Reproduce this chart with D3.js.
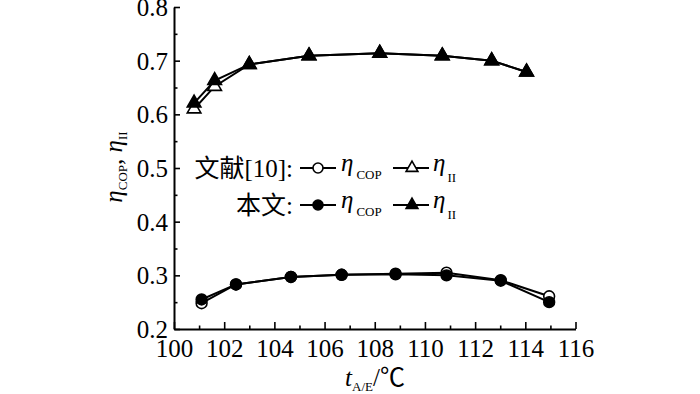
<!DOCTYPE html>
<html>
<head>
<meta charset="utf-8">
<script src="https://cdn.jsdelivr.net/npm/d3@7"></script>
<style>
  body { margin: 0; background: #fff; }
  svg { display: block; }
  text { font-family: "Liberation Serif", "Times New Roman", serif; fill: #000; }
  .cjk { font-family: "Liberation Serif", "Noto Sans CJK SC", serif; }
</style>
</head>
<body>
<svg width="700" height="394"></svg>
<script>
// 横坐标 t_A/E (℃)
var tII = [100.8, 101.62, 103.0, 105.38, 108.2, 110.69, 112.66, 114.05];
var tCOP = [101.1, 102.47, 104.66, 106.68, 108.83, 110.86, 113.02, 114.95];
// 文献[10]
var etaIIRef = [0.610, 0.652, 0.693, 0.709, 0.714, 0.709, 0.700, 0.679];
var etaCOPRef = [0.248, 0.283, 0.297, 0.301, 0.303, 0.305, 0.291, 0.261];
// 本文
var etaIIThis = [0.621, 0.663, 0.693, 0.709, 0.714, 0.709, 0.700, 0.679];
var etaCOPThis = [0.255, 0.283, 0.297, 0.301, 0.302, 0.300, 0.290, 0.250];
// 刻度
var xMajor = [100, 102, 104, 106, 108, 110, 112, 114, 116];
var xMinor = [101, 103, 105, 107, 109, 111, 113, 115];
var yMajor = [0.2, 0.3, 0.4, 0.5, 0.6, 0.7, 0.8];
var yMinor = [0.25, 0.35, 0.45, 0.55, 0.65, 0.75];

var svg = d3.select("svg");
var x = d3.scaleLinear().domain([100, 116]).range([174, 575.5]);
var y = d3.scaleLinear().domain([0.2, 0.8]).range([329, 7]);

// 坐标轴 (刻度朝内)
var xAxis = svg.append("g").attr("transform", "translate(0,329)")
    .call(d3.axisBottom(x).tickValues(xMajor).tickSize(-7).tickSizeOuter(0).tickFormat(d3.format("d")));
svg.append("g").attr("transform", "translate(0,329)")
    .call(d3.axisBottom(x).tickValues(xMinor).tickSize(-3.5).tickSizeOuter(0).tickFormat(""))
    .select(".domain").remove();
xAxis.selectAll("text").attr("y", 28).attr("dy", 0).attr("font-size", 25);

var yAxis = svg.append("g").attr("transform", "translate(174,0)")
    .call(d3.axisLeft(y).tickValues(yMajor).tickSize(-6).tickSizeOuter(0).tickPadding(6).tickFormat(d3.format(".1f")));
svg.append("g").attr("transform", "translate(174,0)")
    .call(d3.axisLeft(y).tickValues(yMinor).tickSize(-3.5).tickSizeOuter(0).tickFormat(""))
    .select(".domain").remove();
yAxis.selectAll("text").attr("dy", "0.34em").attr("font-size", 25);

svg.selectAll("g").attr("font-family", "Liberation Serif");
svg.selectAll(".domain").attr("stroke", "#000").attr("stroke-width", 2);
svg.selectAll(".tick line").attr("stroke", "#000").attr("stroke-width", 1.6);

var line = d3.line().x(function(d) { return x(d[0]); }).y(function(d) { return y(d[1]); });
var tri = d3.symbol().type(d3.symbolTriangle).size(80);

function drawSeries(xs, ys, shape, filled) {
    var pts = xs.map(function(v, i) { return [v, ys[i]]; });
    svg.append("path").datum(pts)
        .attr("d", line)
        .attr("fill", "none")
        .attr("stroke", "#000")
        .attr("stroke-width", 2);
    var g = svg.append("g");
    if (shape == "circle") {
        g.selectAll("circle").data(pts).enter().append("circle")
            .attr("cx", function(d) { return x(d[0]); })
            .attr("cy", function(d) { return y(d[1]); })
            .attr("r", 5.4)
            .attr("fill", filled ? "#000" : "#fff")
            .attr("stroke", "#000").attr("stroke-width", 1.6);
    } else {
        g.selectAll("path").data(pts).enter().append("path")
            .attr("d", tri)
            .attr("transform", function(d) { return "translate(" + x(d[0]) + "," + y(d[1]) + ")"; })
            .attr("fill", filled ? "#000" : "#fff")
            .attr("stroke", "#000").attr("stroke-width", 1.6);
    }
}

drawSeries(tII, etaIIRef, "tri", false);
drawSeries(tCOP, etaCOPRef, "circle", false);
drawSeries(tII, etaIIThis, "tri", true);
drawSeries(tCOP, etaCOPThis, "circle", true);

// 图例
var legend = [
    {label: "文献[10]:", y: 168, filled: false},
    {label: "本文:", y: 205, filled: true}
];
legend.forEach(function(row) {
    svg.append("text").attr("class", "cjk").attr("x", 293).attr("y", row.y + 9)
        .attr("text-anchor", "end").attr("font-size", 25).text(row.label);
    svg.append("line").attr("x1", 300).attr("x2", 336).attr("y1", row.y).attr("y2", row.y)
        .attr("stroke", "#000").attr("stroke-width", 2);
    svg.append("circle").attr("cx", 318).attr("cy", row.y).attr("r", 5)
        .attr("fill", row.filled ? "#000" : "#fff").attr("stroke", "#000").attr("stroke-width", 1.6);
    var t1 = svg.append("text").attr("x", 341).attr("y", row.y + 3).attr("font-size", 25);
    t1.append("tspan").attr("font-style", "italic").text("η");
    t1.append("tspan").attr("font-size", 13).attr("dx", 3).attr("dy", 8).text("COP");

    svg.append("line").attr("x1", 393).attr("x2", 429).attr("y1", row.y).attr("y2", row.y)
        .attr("stroke", "#000").attr("stroke-width", 2);
    svg.append("path").attr("d", d3.symbol().type(d3.symbolTriangle).size(60))
        .attr("transform", "translate(412," + row.y + ")")
        .attr("fill", row.filled ? "#000" : "#fff").attr("stroke", "#000").attr("stroke-width", 1.6);
    var t2 = svg.append("text").attr("x", 433).attr("y", row.y + 3).attr("font-size", 25);
    t2.append("tspan").attr("font-style", "italic").text("η");
    t2.append("tspan").attr("font-size", 13).attr("dx", 2).attr("dy", 11).text("II");
});

// 轴标题
var yl = svg.append("text").attr("transform", "translate(122,167) rotate(-90)")
    .attr("text-anchor", "middle").attr("font-size", 25);
yl.append("tspan").attr("font-style", "italic").text("η");
yl.append("tspan").attr("font-size", 13).attr("dy", 5).text("COP");
yl.append("tspan").attr("dy", -5).text(", ");
yl.append("tspan").attr("font-style", "italic").text("η");
yl.append("tspan").attr("font-size", 13).attr("dy", 5).text("II");

var xl = svg.append("text").attr("x", 375).attr("y", 386)
    .attr("text-anchor", "middle").attr("font-size", 25);
xl.append("tspan").attr("font-style", "italic").text("t");
xl.append("tspan").attr("font-size", 13).attr("dy", 5).text("A/E");
xl.append("tspan").attr("class", "cjk").attr("dy", -5).text("/℃");
</script>
</body>
</html>
